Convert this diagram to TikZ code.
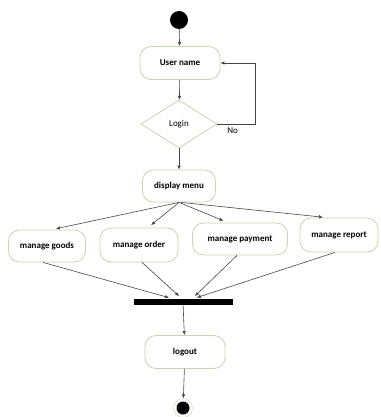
\documentclass[tikz,border=0pt]{standalone}
\usepackage{fontspec}
\setmainfont{Carlito}
\usepackage{xcolor}
\usetikzlibrary{shapes.geometric}
\usetikzlibrary{arrows.meta}
\definecolor{boxline}{RGB}{196,214,176}
\definecolor{flowline}{RGB}{70,70,70}

\begin{document}
\begin{tikzpicture}[x=1pt,y=-1pt,
  >={Latex[length=4pt,width=3.5pt]},
  act/.style={draw=boxline,thick,rounded corners=11pt,inner sep=0pt,minimum height=33pt,font=\fontsize{9}{10}\selectfont\bfseries},
  decide/.style={diamond,draw=boxline,thick,inner sep=0pt,minimum width=76pt,minimum height=48pt,font=\fontsize{9}{10}\selectfont},
  flow/.style={->,flowline,line width=0.6pt}]
\useasboundingbox (0,0) rectangle (380,417);

\node[circle,fill=black,inner sep=0pt,minimum size=18pt] (start) at (179,20) {};
\node[act,minimum width=80pt] (user) at (180,63) {User name};
\node[decide] (login) at (179,124) {Login};
\node[act,minimum width=73pt,minimum height=32pt] (menu) at (179,186) {display menu};

\node[act,minimum width=77pt,minimum height=32pt] (goods) at (47,246) {manage goods};
\node[act,minimum width=78pt,minimum height=34pt] (order) at (139,245) {manage order};
\node[act,minimum width=95pt,minimum height=32pt] (payment) at (240,239) {manage payment};
\node[act,minimum width=78pt,minimum height=34pt] (report) at (339,235) {manage report};

\node[fill=black,inner sep=0pt,minimum width=99pt,minimum height=6pt] (bar) at (183,302) {};
\node[act,minimum width=80pt] (logout) at (185,352) {logout};
\node[circle,draw=boxline,inner sep=0pt,minimum size=19pt,
  path picture={\fill[black] (path picture bounding box.center) circle (6.5pt);}] (stop) at (183,408) {};

\draw[flow] (start) -- (user);
\draw[flow] (user) -- (login);
\draw[flow] (login.east) -- node[below,pos=0.4,font=\fontsize{9}{10}\selectfont,text=black] {No} ++(38,0) |- (user.east);
\draw[flow] (login) -- (menu);

\draw[flow,shorten >=4pt] (menu.south) -- ([xshift=5pt]goods.north);
\draw[flow,shorten >=4pt] (menu.south) -- ([xshift=9pt]order.north);
\draw[flow,shorten >=5pt] (menu.south) -- ([xshift=-12pt]payment.north);
\draw[flow,shorten >=4pt] ([xshift=2pt]menu.south) -- ([xshift=-12pt]report.north);

\draw[flow,shorten >=4pt] ([xshift=-4pt]goods.south) -- ([xshift=-10pt]bar.north);
\draw[flow,shorten >=4pt] ([xshift=3pt]order.south) -- ([xshift=-1pt]bar.north);
\draw[flow,shorten >=4pt] ([xshift=-3pt]payment.south) -- ([xshift=9pt]bar.north);
\draw[flow,shorten >=4pt] ([xshift=-4pt]report.south) -- ([xshift=10pt]bar.north);

\draw[flow] (bar) -- (logout);
\draw[flow] (logout) -- (stop);
\end{tikzpicture}
\end{document}
